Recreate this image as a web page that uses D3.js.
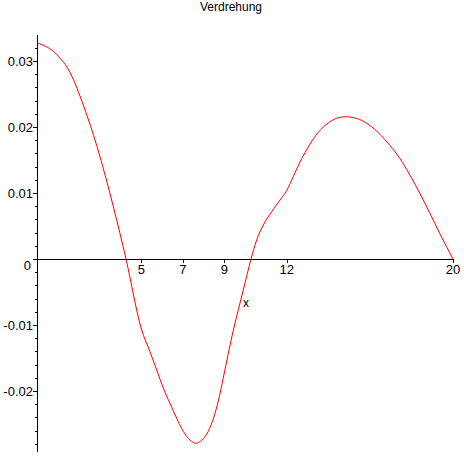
<!DOCTYPE html>
<html>
<head>
<meta charset="utf-8">
<script src="https://cdn.jsdelivr.net/npm/d3@7"></script>
<style>
  html, body { margin: 0; padding: 0; background: #fff; }
  text { font-family: "Liberation Sans", Arial, sans-serif; fill: #000; }
</style>
</head>
<body>
<svg id="chart" width="464" height="464"></svg>
<script>
const title = "Verdrehung";
const xLabel = "x";
const xTickValues = [5, 7, 9, 12, 20];
const yMajorTicks = [-0.02, -0.01, 0, 0.01, 0.02, 0.03];
const yTickLabels = ["-0.02", "-0.01", "0", "0.01", "0.02", "0.03"];
const xs = [0, 0.939, 1.579, 2.224, 2.864, 3.649, 4.26, 5.0,
  5.415, 5.738, 6.055, 6.378, 6.7, 7.018, 7.341, 7.615, 7.904, 8.221, 8.462, 8.703, 8.943, 9.184, 9.425, 9.665, 9.906,
  10.277, 10.551, 10.869, 11.273, 11.673, 12.0, 12.313, 12.635, 12.876, 13.276, 13.757, 14.238, 14.801, 15.365, 15.923,
  16.486, 16.968, 17.449, 17.93, 18.412, 18.893, 19.374, 20];
const ys = [0.03273, 0.03095, 0.02818, 0.02315, 0.01705, 0.00795, 0, -0.0106,
  -0.01405, -0.01682, -0.01955, -0.02188, -0.02412, -0.02612, -0.02742, -0.02792, -0.02745, -0.0261, -0.0242, -0.0215, -0.018, -0.0143, -0.0108, -0.0077, -0.0047,
  0, 0.00288, 0.00515, 0.00717, 0.00894, 0.0104, 0.0125, 0.0147, 0.0161, 0.0182, 0.02, 0.0211, 0.02155, 0.0213, 0.0204,
  0.0189, 0.0172, 0.0152, 0.0127, 0.0099, 0.0069, 0.0038, 0];

const svg = d3.select("#chart");
const x = d3.scaleLinear().domain([0, 20]).range([37.5, 453]);
const y = d3.scaleLinear().domain([-0.02924, 0.03394]).range([452, 35]);

// title
svg.append("text").attr("x", 231).attr("y", 11).attr("text-anchor", "middle")
  .style("font-size", "12px").text(title);

// axes lines
const g = svg.append("g").attr("shape-rendering", "crispEdges");
g.append("line").attr("x1", 37.5).attr("x2", 37.5).attr("y1", 35).attr("y2", 452)
  .attr("stroke", "#000");
g.append("line").attr("x1", 37).attr("x2", 453).attr("y1", Math.round(y(0)) + 0.5).attr("y2", Math.round(y(0)) + 0.5)
  .attr("stroke", "#000");

// y ticks (minor every 0.002, major every 0.01)
const minor = d3.range(-14, 17).map(i => i * 0.002);
minor.forEach(v => {
  const isMajor = Math.abs(Math.round(v * 100) - v * 100) < 1e-6;
  const py = Math.round(y(v)) + 0.5;
  g.append("line").attr("x1", isMajor ? 33 : 35).attr("x2", 37).attr("y1", py).attr("y2", py)
    .attr("stroke", "#000");
});

// y labels
yMajorTicks.forEach((v, i) => {
  const py = y(v);
  const isZero = v === 0;
  svg.append("text").attr("x", isZero ? 31 : 33).attr("y", py + (isZero ? 11 : 5))
    .attr("text-anchor", "end").style("font-size", "13px").text(yTickLabels[i]);
});

// x ticks and labels
xTickValues.forEach(v => {
  const px = Math.round(x(v)) + 0.5;
  g.append("line").attr("x1", px).attr("x2", px).attr("y1", y(0)).attr("y2", y(0) + 4)
    .attr("stroke", "#000");
  svg.append("text").attr("x", x(v)).attr("y", y(0) + 15).attr("text-anchor", "middle")
    .style("font-size", "13px").text(String(v));
});

// x axis label
svg.append("text").attr("x", 246).attr("y", 307).attr("text-anchor", "middle")
  .style("font-size", "12px").text(xLabel);

// curve
const pts = xs.map((d, i) => [d, ys[i]]);
const line = d3.line().x(d => x(d[0])).y(d => y(d[1])).curve(d3.curveMonotoneX);
svg.append("path").datum(pts).attr("d", line).attr("fill", "none")
  .attr("stroke", "#ff0000").attr("stroke-width", 1);
</script>
</body>
</html>
